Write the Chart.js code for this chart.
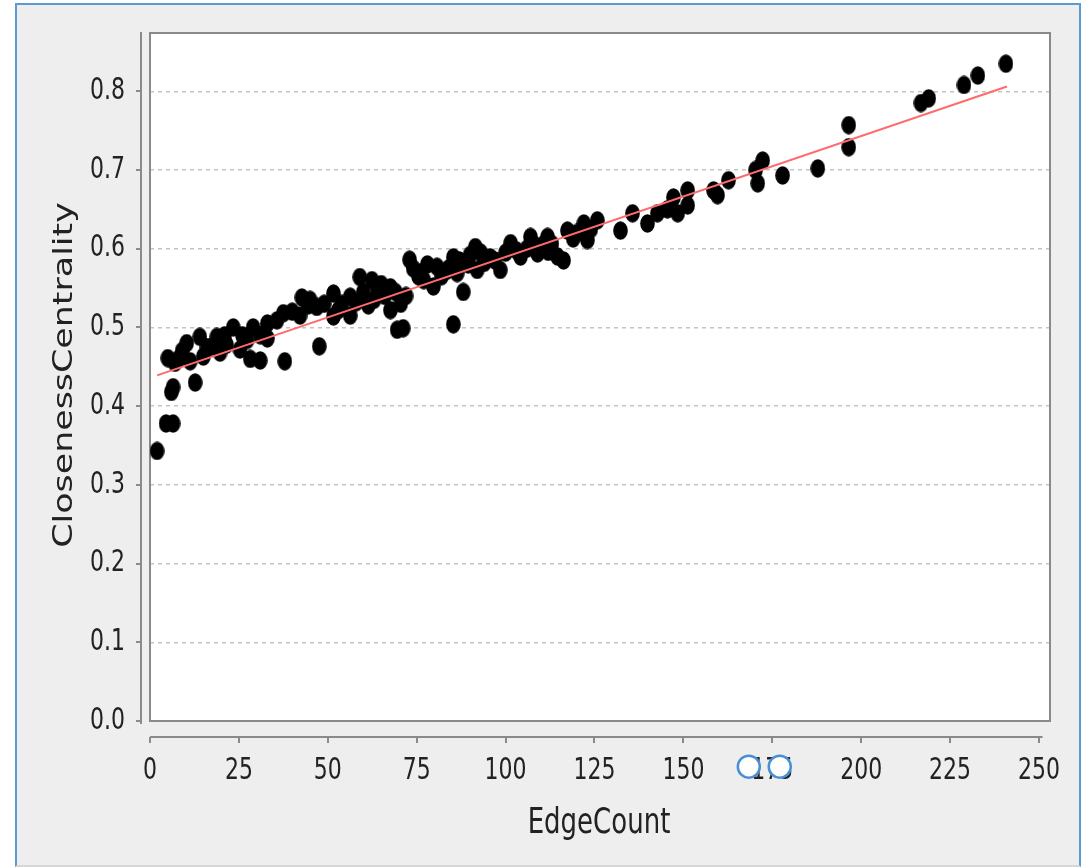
<!DOCTYPE html>
<html>
<head>
<meta charset="utf-8">
<script src="https://cdn.jsdelivr.net/npm/chart.js@4"></script>
<style>
  body { margin: 0; background: #ffffff; }
  #frame { position: absolute; left: 15px; top: 3px; width: 1062px; height: 860px;
           border: 2px solid #5b9bd5; border-bottom: 2px solid #d6d6d6; background: #eeeeee; }
  #chart { position: absolute; left: 0; top: 0; }
</style>
</head>
<body>
<div id="frame"></div>
<canvas id="chart" width="1088" height="868"></canvas>
<script>
// values
var edgeCount = [
    2, 4.5, 6.5, 6, 6.5, 5, 7, 12.7, 10.3, 11.3, 14, 15, 18.8, 19.7, 23.4, 25.3, 27.3, 28.2,
    29, 31, 33, 33, 35.7, 37.5, 37.9, 9, 17, 21.5, 8, 16, 21, 26, 31,
    42.2, 42.7, 44.5, 46.9, 47.6, 49, 51.6, 51.6, 54, 56.3, 56.3, 59, 60, 61.4, 62.4, 64, 66,
    67.6, 67.6, 69.5, 71.2, 70.5, 73, 74, 75.5, 77, 78, 79.7, 80.7, 82, 83.5, 85.3, 85.3, 86.4,
    88.1, 89.5, 91.5, 92, 94, 95.7, 98.5, 100, 101.4, 104.2, 106, 107, 109, 110.5, 111.8, 112,
    114.6, 116.3, 117.4, 119, 122, 123, 125.8,
    40, 45, 53, 58, 63, 65, 69, 72, 76, 84, 87, 90, 93, 97, 103, 108, 113, 120, 124,
    132.3, 135.7, 139.9, 142.7, 145.5, 147.2, 148.4, 151.2, 151.2, 158.5, 159.6, 162.7, 170.3,
    170.9, 172.3, 177.9, 187.8, 196.5, 196.5, 216.8, 219, 228.9, 232.8, 240.7
];
var closeness = [
    0.343, 0.378, 0.378, 0.418, 0.424, 0.461, 0.455, 0.430, 0.480, 0.457, 0.488, 0.463, 0.488, 0.468, 0.500, 0.472, 0.484, 0.460,
    0.500, 0.458, 0.505, 0.486, 0.509, 0.518, 0.457, 0.470, 0.475, 0.478, 0.460, 0.475, 0.490, 0.490, 0.490,
    0.515, 0.538, 0.528, 0.526, 0.476, 0.530, 0.543, 0.514, 0.530, 0.539, 0.515, 0.564, 0.545, 0.528, 0.560, 0.548, 0.540,
    0.551, 0.522, 0.497, 0.499, 0.530, 0.586, 0.575, 0.565, 0.560, 0.580, 0.552, 0.577, 0.565, 0.572, 0.589, 0.504, 0.569,
    0.545, 0.580, 0.602, 0.573, 0.582, 0.589, 0.573, 0.595, 0.607, 0.590, 0.600, 0.615, 0.594, 0.605, 0.615, 0.596,
    0.590, 0.585, 0.623, 0.613, 0.632, 0.611, 0.636,
    0.520, 0.535, 0.522, 0.532, 0.535, 0.555, 0.545, 0.540, 0.570, 0.575, 0.585, 0.592, 0.595, 0.585, 0.598, 0.605, 0.606, 0.620, 0.625,
    0.623, 0.645, 0.632, 0.645, 0.650, 0.665, 0.645, 0.674, 0.655, 0.674, 0.668, 0.687, 0.700,
    0.683, 0.712, 0.693, 0.702, 0.757, 0.729, 0.785, 0.791, 0.808, 0.820, 0.835
];

// fitted line end points
var trendX = [2, 241];
var trendY = [0.439, 0.806];

// the two blue rings over the "175" label
var ringX = [168.4, 177.1];
var ringY = [-0.058, -0.058];

var xTicks = [0, 25, 50, 75, 100, 125, 150, 175, 200, 225, 250];
var yTicks = [0, 0.1, 0.2, 0.3, 0.4, 0.5, 0.6, 0.7, 0.8];
var xTitle = 'EdgeCount';
var yTitle = 'ClosenessCentrality';

// the picture is stretched vertically, text too
var STRETCH = 1.34;

function toPoints(xs, ys) {
    return xs.map(function (x, i) { return { x: x, y: ys[i] }; });
}

// oval dot like the original
var dot = document.createElement('canvas');
dot.width = 15;
dot.height = 19;
var dctx = dot.getContext('2d');
dctx.fillStyle = '#000000';
dctx.beginPath();
dctx.ellipse(7.5, 9.5, 7.3, 9.3, 0, 0, Math.PI * 2);
dctx.fill();

function stretchedText(ctx, text, x, y, align, rotate) {
    ctx.save();
    ctx.translate(x, y);
    if (rotate) {
        ctx.rotate(-Math.PI / 2);
        ctx.scale(STRETCH, 1);
    } else {
        ctx.scale(1, STRETCH);
    }
    ctx.textAlign = align;
    ctx.fillText(text, 0, 0);
    ctx.restore();
}

var frameStuff = {
    id: 'frameStuff',
    beforeDraw: function (chart) {
        var a = chart.chartArea, ctx = chart.ctx;
        ctx.save();
        ctx.fillStyle = '#ffffff';
        ctx.fillRect(a.left, a.top, a.right - a.left, a.bottom - a.top);
        ctx.restore();
    },
    beforeDatasetsDraw: function (chart) {
        var a = chart.chartArea, ctx = chart.ctx;
        ctx.save();
        ctx.strokeStyle = '#8a8a8a';
        ctx.lineWidth = 2;
        ctx.strokeRect(a.left, a.top, a.right - a.left, a.bottom - a.top);
        ctx.restore();
    },
    afterDraw: function (chart) {
        var a = chart.chartArea, ctx = chart.ctx;
        var xs = chart.scales.x, ys = chart.scales.y;
        ctx.save();
        ctx.strokeStyle = '#8a8a8a';
        ctx.lineWidth = 2;
        // y axis line, offset left of the plot
        var ax = a.left - 9;
        ctx.beginPath();
        ctx.moveTo(ax, a.top - 1);
        ctx.lineTo(ax, a.bottom + 3);
        yTicks.forEach(function (v) {
            var py = Math.round(ys.getPixelForValue(v));
            ctx.moveTo(ax, py);
            ctx.lineTo(ax - 5, py);
        });
        // x axis line, offset below the plot
        var ay = a.bottom + 16;
        ctx.moveTo(a.left, ay);
        ctx.lineTo(xs.getPixelForValue(251), ay);
        xTicks.forEach(function (v) {
            var px = Math.round(xs.getPixelForValue(v));
            ctx.moveTo(px, ay);
            ctx.lineTo(px, ay + 6);
        });
        ctx.stroke();
        ctx.restore();

        // labels
        ctx.save();
        ctx.fillStyle = '#222222';
        ctx.font = '22px "DejaVu Sans"';
        ctx.textBaseline = 'middle';
        yTicks.forEach(function (v) {
            stretchedText(ctx, v.toFixed(1), a.left - 25, ys.getPixelForValue(v), 'right', false);
        });
        ctx.textBaseline = 'alphabetic';
        xTicks.forEach(function (v) {
            stretchedText(ctx, String(v), xs.getPixelForValue(v), a.bottom + 58, 'center', false);
        });
        ctx.font = '26px "DejaVu Sans"';
        stretchedText(ctx, xTitle, (a.left + a.right) / 2 - 1, a.bottom + 112, 'center', false);
        stretchedText(ctx, yTitle, 72, (a.top + a.bottom) / 2 - 2, 'center', true);
        ctx.restore();

        // blue rings (drawn last, over the tick label)
        ctx.save();
        ctx.strokeStyle = '#4a8fd6';
        ctx.fillStyle = '#ffffff';
        ctx.lineWidth = 2.5;
        ringX.forEach(function (v, i) {
            ctx.beginPath();
            ctx.arc(xs.getPixelForValue(v), ys.getPixelForValue(ringY[i]), 11, 0, Math.PI * 2);
            ctx.fill();
            ctx.stroke();
        });
        ctx.restore();
    }
};

var ctx = document.getElementById('chart').getContext('2d');
new Chart(ctx, {
    type: 'scatter',
    data: {
        datasets: [{
            label: 'fit',
            type: 'line',
            data: toPoints(trendX, trendY),
            borderColor: '#ff6b6b',
            borderWidth: 2,
            pointRadius: 0,
            fill: false,
            order: 1
        }, {
            label: yTitle,
            data: toPoints(edgeCount, closeness),
            pointStyle: dot,
            order: 2
        }]
    },
    options: {
        responsive: false,
        animation: false,
        events: [],
        layout: {
            padding: { left: 0, top: 33, right: 38, bottom: 0 }
        },
        plugins: {
            legend: { display: false },
            tooltip: { enabled: false }
        },
        scales: {
            x: {
                type: 'linear',
                min: 0,
                max: 253.1,
                afterFit: function (scale) {
                    scale.height = 147;
                    scale.paddingLeft = 0;
                    scale.paddingRight = 0;
                },
                afterBuildTicks: function (scale) {
                    scale.ticks = xTicks.map(function (v) { return { value: v }; });
                },
                grid: { display: false, drawTicks: false },
                border: { display: false },
                ticks: { display: false }
            },
            y: {
                min: 0,
                max: 0.874,
                afterFit: function (scale) {
                    scale.width = 150;
                    scale.paddingTop = 0;
                    scale.paddingBottom = 0;
                },
                afterBuildTicks: function (scale) {
                    scale.ticks = yTicks.map(function (v) { return { value: v }; });
                },
                grid: {
                    drawTicks: false,
                    color: function (c) { return c.tick && c.tick.value === 0 ? 'rgba(0,0,0,0)' : '#c4c4c4'; },
                    lineWidth: 1.5
                },
                border: { display: false, dash: [4, 4] },
                ticks: { display: false }
            }
        }
    },
    plugins: [frameStuff]
});
</script>
</body>
</html>
